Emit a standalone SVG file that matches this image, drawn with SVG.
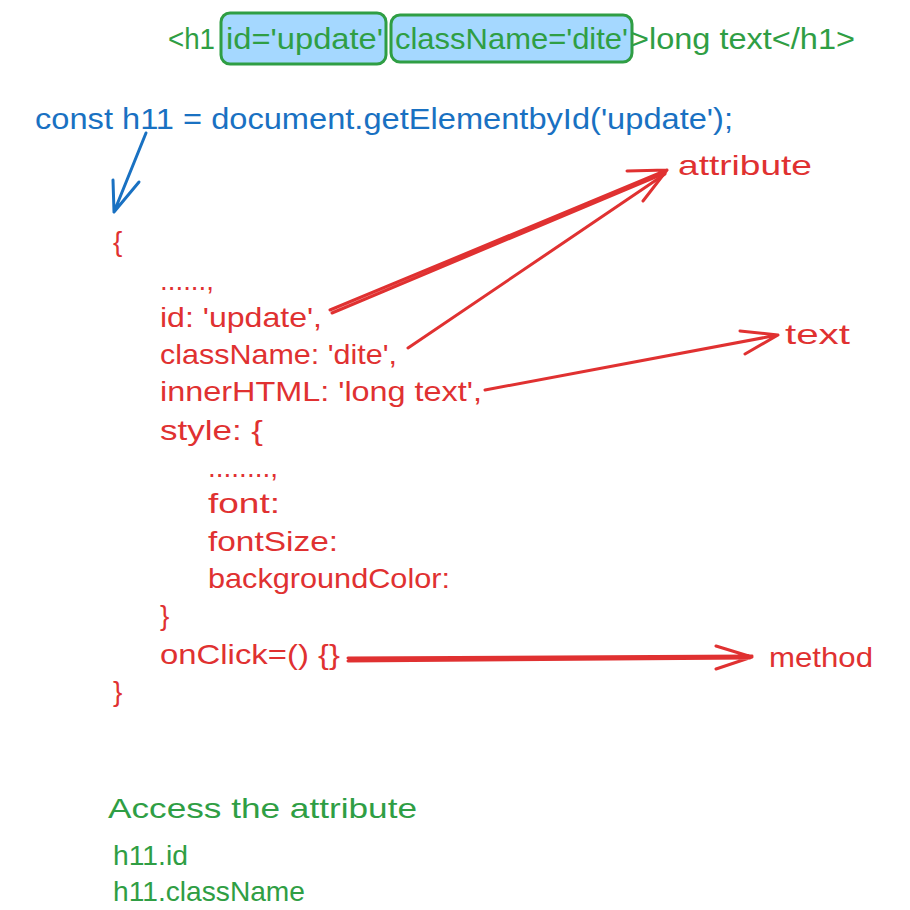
<svg xmlns="http://www.w3.org/2000/svg" width="910" height="910" viewBox="0 0 910 910">
<style>
text{font-family:"Liberation Sans","Open Sans",sans-serif;}
.g{fill:#2f9e44;font-size:29px;}
.gb{fill:#2f9e44;font-size:28px;}
.b{fill:#1971c2;font-size:29px;}
.r{fill:#e03131;font-size:28px;}
.box{fill:#a5d8ff;stroke:#2f9e44;stroke-width:3;}
.rl{fill:none;stroke:#e03131;stroke-width:3;stroke-linecap:round;stroke-linejoin:round;}
.bl{fill:none;stroke:#1971c2;stroke-width:3;stroke-linecap:round;stroke-linejoin:round;}
</style>
<rect width="910" height="910" fill="#ffffff"/>
<g id="h1-line">
<rect class="box" x="221" y="13" width="165" height="51" rx="9"/>
<rect class="box" x="391" y="15" width="241" height="47" rx="9"/>
<text class="g" x="168" y="49" textLength="47" lengthAdjust="spacingAndGlyphs">&lt;h1</text>
<text class="g" x="226" y="49" textLength="157" lengthAdjust="spacingAndGlyphs">id='update'</text>
<text class="g" x="395" y="49" textLength="233" lengthAdjust="spacingAndGlyphs">className='dite'</text>
<text class="g" x="630" y="49" textLength="225" lengthAdjust="spacingAndGlyphs">&gt;long text&lt;/h1&gt;</text>
</g>
<g id="const-line">
<text class="b" x="35" y="129" textLength="698" lengthAdjust="spacingAndGlyphs">const h11 = document.getElementbyId('update');</text>
</g>
<g id="object">
<text class="r" x="113" y="251">{</text>
<text class="r" x="160" y="290" textLength="54" lengthAdjust="spacingAndGlyphs">......,</text>
<text class="r" x="160" y="327" textLength="162" lengthAdjust="spacingAndGlyphs">id: 'update',</text>
<text class="r" x="160" y="364" textLength="237" lengthAdjust="spacingAndGlyphs">className: 'dite',</text>
<text class="r" x="160" y="401" textLength="322" lengthAdjust="spacingAndGlyphs">innerHTML: 'long text',</text>
<text class="r" x="160" y="440" textLength="103" lengthAdjust="spacingAndGlyphs">style: {</text>
<text class="r" x="208" y="477" textLength="70" lengthAdjust="spacingAndGlyphs">........,</text>
<text class="r" x="208" y="513" textLength="72" lengthAdjust="spacingAndGlyphs">font:</text>
<text class="r" x="208" y="551" textLength="130" lengthAdjust="spacingAndGlyphs">fontSize:</text>
<text class="r" x="208" y="588" textLength="242" lengthAdjust="spacingAndGlyphs">backgroundColor:</text>
<text class="r" x="160" y="625">}</text>
<text class="r" x="160" y="664" textLength="180" lengthAdjust="spacingAndGlyphs">onClick=() {}</text>
<text class="r" x="113" y="701">}</text>
</g>
<g id="label-attribute"><text class="r" x="678" y="175" textLength="134" lengthAdjust="spacingAndGlyphs">attribute</text></g>
<g id="label-text"><text class="r" x="785" y="344" textLength="65" lengthAdjust="spacingAndGlyphs">text</text></g>
<g id="label-method"><text class="r" x="769" y="667" textLength="104" lengthAdjust="spacingAndGlyphs">method</text></g>
<g id="access">
<text class="gb" x="108" y="818" textLength="309" lengthAdjust="spacingAndGlyphs">Access the attribute</text>
<text class="gb" x="113" y="865" textLength="75" lengthAdjust="spacingAndGlyphs">h11.id</text>
<text class="gb" x="113" y="901" textLength="192" lengthAdjust="spacingAndGlyphs">h11.className</text>
</g>
<g id="connectors">
<path class="bl" d="M146 133 L114 212 M113 180 L114 212 L139 182"/>
<path class="rl" d="M330 310 L667 170 M332 313 L665 173 M627 171 L667 170 L643 201"/>
<path class="rl" d="M408 348 L665 174"/>
<path class="rl" d="M485 390 L778 335 M740 331 L778 335 L745 354"/>
<path class="rl" d="M348 658 L752 656 M348 661 L750 658 M716 646 L752 657 L716 669"/>
</g>
</svg>
